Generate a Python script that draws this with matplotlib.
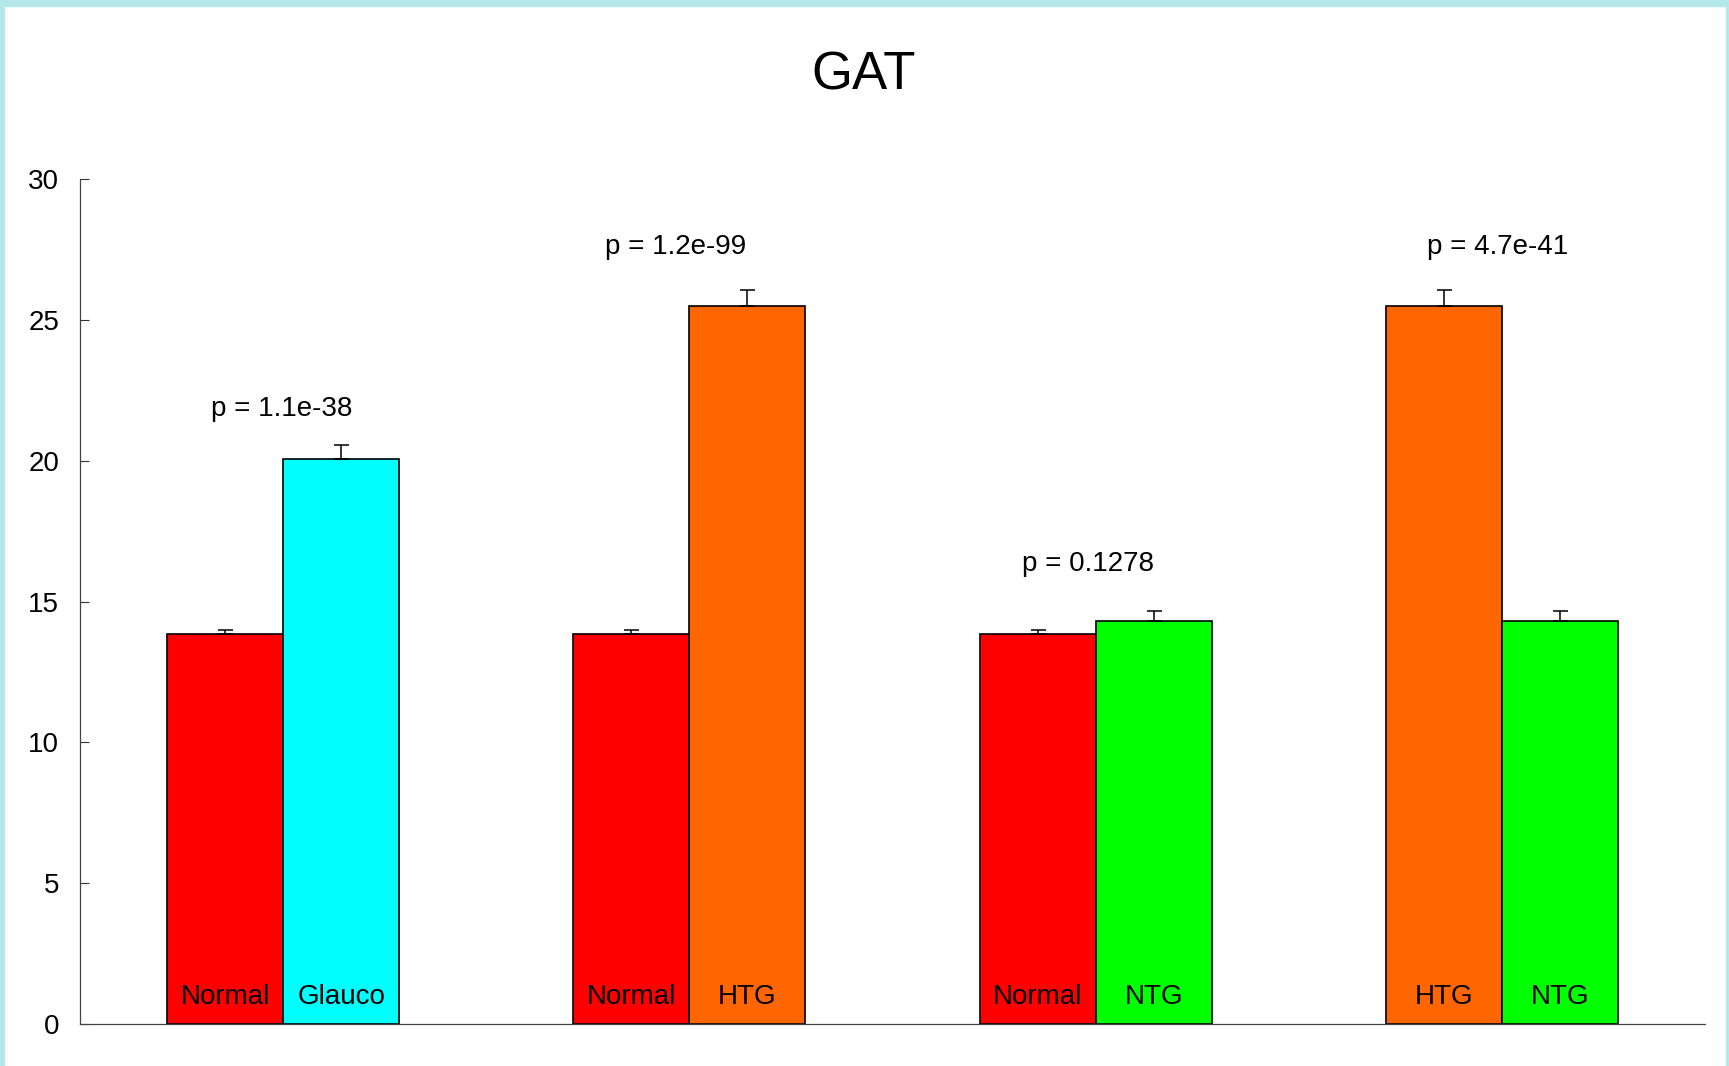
import matplotlib.pyplot as plt
from matplotlib.patches import Rectangle

# group means / s.e.m. for each tissue class
left_labels = ["Normal", "Normal", "Normal", "HTG"]
right_labels = ["Glauco", "HTG", "NTG", "NTG"]
class_means = {"Normal": 13.85, "Glauco": 20.05, "HTG": 25.5, "NTG": 14.3}
class_errs = {"Normal": 0.14, "Glauco": 0.5, "HTG": 0.57, "NTG": 0.38}
class_colors = {"Normal": "#ff0000", "Glauco": "#00ffff",
                "HTG": "#ff6600", "NTG": "#00ff00"}
p_values = ["1.1e-38", "1.2e-99", "0.1278", "4.7e-41"]
y_ticks = [0, 5, 10, 15, 20, 25, 30]

# where the p-value captions sit (shift from group centre, baseline height)
p_label_dx = [-0.01, -0.115, -0.07, -0.04]
p_label_y = [21.6, 27.35, 16.07, 27.35]


def main():
    plt.rcParams['font.family'] = ['Liberation Sans', 'DejaVu Sans']
    fig = plt.figure(figsize=(17.29, 10.66), dpi=100)
    fig.patch.set_facecolor("white")

    # thin frame round the page
    border = "#b5e9e9"
    fig.patches.append(Rectangle((0, 1 - 6 / 1066), 1, 6 / 1066,
                                 transform=fig.transFigure, color=border))
    fig.patches.append(Rectangle((0, 0), 4 / 1729, 1,
                                 transform=fig.transFigure, color=border))
    fig.patches.append(Rectangle((1 - 3 / 1729, 0), 3 / 1729, 1,
                                 transform=fig.transFigure, color=border))

    ax = fig.add_axes([80 / 1729, 1 - 1024 / 1066,
                       1625 / 1729, (1024 - 179) / 1066])

    width = 1.0
    step = 3.5
    fs = 20
    for i in range(len(left_labels)):
        for j, name in enumerate([left_labels[i], right_labels[i]]):
            x = 1.25 + i * step + j * width
            m = class_means[name]
            e = class_errs[name]
            ax.bar(x, m, width=width, color=class_colors[name],
                   edgecolor="black", linewidth=1.2, zorder=2)
            ax.errorbar(x, m, yerr=[[0], [e]], fmt="none", ecolor="black",
                        elinewidth=1.1, capsize=5.4, capthick=1.1, zorder=3)
            ax.text(x, 0.7, name, ha="center", va="baseline",
                    fontsize=fs, zorder=4)
        cx = 1.75 + i * step + p_label_dx[i]
        ax.text(cx, p_label_y[i], "p = " + p_values[i], ha="center",
                va="baseline", fontsize=fs)

    ax.set_xlim(0, 14)
    ax.set_ylim(0, 30)
    ax.set_yticks(y_ticks)
    ax.set_xticks([])
    ax.tick_params(axis="y", direction="in", length=6.5, width=0.8,
                   pad=15, labelsize=fs, colors="#333333", labelcolor="black")
    for side in ["top", "right"]:
        ax.spines[side].set_visible(False)
    for side in ["left", "bottom"]:
        ax.spines[side].set_color("#444444")
        ax.spines[side].set_linewidth(0.9)

    fig.text(864 / 1729, 1 - 90 / 1066, "GAT", ha="center", va="baseline",
             fontsize=38)

    fig.savefig("out.png", dpi=100)


if __name__ == "__main__":
    main()
